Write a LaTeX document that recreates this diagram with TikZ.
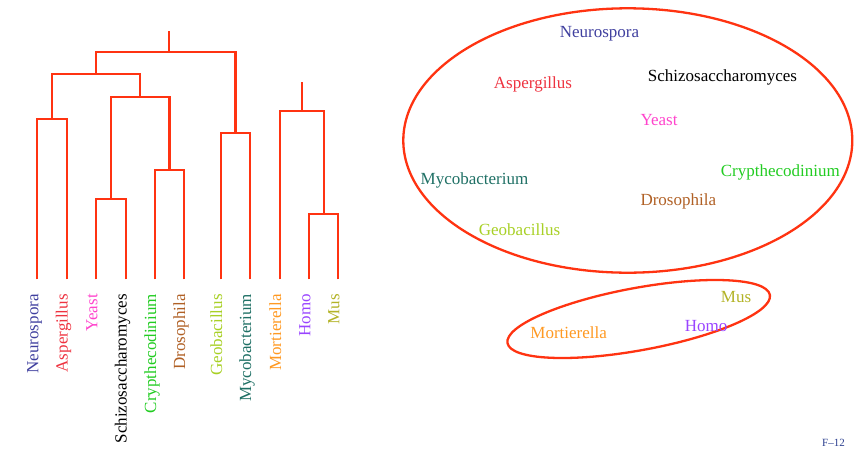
\documentclass[tikz,border=0pt]{standalone}
\usepackage{fontspec}
\setmainfont{Liberation Serif}
\usetikzlibrary{shapes.geometric}
\definecolor{tree}{HTML}{FF3311}
\definecolor{cneuro}{HTML}{40409F}
\definecolor{casper}{HTML}{EE3340}
\definecolor{cyeast}{HTML}{FF44CC}
\definecolor{cschizo}{HTML}{000000}
\definecolor{ccrypt}{HTML}{22CC22}
\definecolor{cdroso}{HTML}{B06025}
\definecolor{cgeo}{HTML}{A8D025}
\definecolor{cmyco}{HTML}{1F7065}
\definecolor{cmort}{HTML}{FF9922}
\definecolor{chomo}{HTML}{9944FF}
\definecolor{cmus}{HTML}{B3B326}
\definecolor{cfoot}{HTML}{2B3F8F}
\tikzset{
  branch/.style={draw=tree, line width=2.3pt},
  leaflabel/.style={rotate=90, anchor=base east, inner sep=0pt, font=\fontsize{17}{20}\selectfont},
  word/.style={anchor=base, inner sep=0pt, font=\fontsize{17}{20}\selectfont},
  group/.style={draw=tree, line width=2.3pt, ellipse, inner sep=0pt}
}
\begin{document}
\begin{tikzpicture}[x=1pt, y=-1pt]
\useasboundingbox (0,0) rectangle (860,448);
% leaves
\coordinate (L1) at (37.3,279.3);
\coordinate (L2) at (66.7,279.3);
\coordinate (L3) at (96.3,279.3);
\coordinate (L4) at (125.7,279.3);
\coordinate (L5) at (155,279.3);
\coordinate (L6) at (184,279.3);
\coordinate (L7) at (221,279.3);
\coordinate (L8) at (250,279.3);
\coordinate (L9) at (280,279.3);
\coordinate (L10) at (309.3,279.3);
\coordinate (L11) at (338.3,279.3);
% joins
\coordinate (JNA) at (52,118.7);
\coordinate (JYS) at (111,199.3);
\coordinate (JCD) at (169.5,170.3);
\coordinate (JYSCD) at (140.3,96.7);
\coordinate (JL) at (96,74);
\coordinate (JGM) at (235.5,133.3);
\coordinate (Root) at (169,52.3);
\coordinate (RootTop) at (169,31);
\coordinate (JHM) at (323.8,213.7);
\coordinate (JR) at (301.7,110.7);
\coordinate (JRTop) at (301.7,82);
% branches: each child goes up, then across to its parent's join
\draw[branch] (L1) |- (JNA);
\draw[branch] (L2) |- (JNA);
\draw[branch] (L3) |- (JYS);
\draw[branch] (L4) |- (JYS);
\draw[branch] (L5) |- (JCD);
\draw[branch] (L6) |- (JCD);
\draw[branch] (JYS) |- (JYSCD);
\draw[branch] (JCD) |- (JYSCD);
\draw[branch] (JNA) |- (JL);
\draw[branch] (JYSCD) |- (JL);
\draw[branch] (L7) |- (JGM);
\draw[branch] (L8) |- (JGM);
\draw[branch] (JL) |- (Root);
\draw[branch] (JGM) |- (Root);
\draw[branch] (Root) -- (RootTop);
\draw[branch] (L10) |- (JHM);
\draw[branch] (L11) |- (JHM);
\draw[branch] (L9) |- (JR);
\draw[branch] (JHM) |- (JR);
\draw[branch] (JR) -- (JRTop);
% leaf labels
\node[leaflabel, text=cneuro] (t1) at (38.3,294) {Neurospora};
\node[leaflabel, text=casper] (t2) at (67.7,294) {Aspergillus};
\node[leaflabel, text=cyeast] (t3) at (97.3,294) {Yeast};
\node[leaflabel, text=cschizo] (t4) at (126.7,294) {Schizosaccharomyces};
\node[leaflabel, text=ccrypt] (t5) at (156,294) {Crypthecodinium};
\node[leaflabel, text=cdroso] (t6) at (185,294) {Drosophila};
\node[leaflabel, text=cgeo] (t7) at (222,294) {Geobacillus};
\node[leaflabel, text=cmyco] (t8) at (251,294) {Mycobacterium};
\node[leaflabel, text=cmort] (t9) at (281,294) {Mortierella};
\node[leaflabel, text=chomo] (t10) at (310.3,294) {Homo};
\node[leaflabel, text=cmus] (t11) at (339.3,294) {Mus};
% groups
\node[group, minimum width=449pt, minimum height=264.4pt] (G1) at (627.8,140.5) {};
\node[group, rotate=10.4, minimum width=266.8pt, minimum height=62.4pt] (G2) at (638.7,319) {};
% words in group 1
\node[word, text=cneuro] (w1) at (599.5,37.5) {Neurospora};
\node[word, text=casper] (w2) at (533,88.5) {Aspergillus};
\node[word, text=cschizo] (w3) at (722.5,81.5) {Schizosaccharomyces};
\node[word, text=cyeast] (w4) at (659,125) {Yeast};
\node[word, text=ccrypt] (w5) at (780.3,176.5) {Crypthecodinium};
\node[word, text=cmyco] (w6) at (474.5,184) {Mycobacterium};
\node[word, text=cdroso] (w7) at (678.3,205.5) {Drosophila};
\node[word, text=cgeo] (w8) at (519.5,235.5) {Geobacillus};
% words in group 2
\node[word, text=cmus] (w9) at (736,302) {Mus};
\node[word, text=chomo] (w10) at (706,331) {Homo};
\node[word, text=cmort] (w11) at (568.7,338) {Mortierella};
% footer
\node[anchor=base west, inner sep=0pt, text=cfoot, font=\fontsize{11}{13}\selectfont] (foot) at (822,446) {F--12};
\end{tikzpicture}
\end{document}
